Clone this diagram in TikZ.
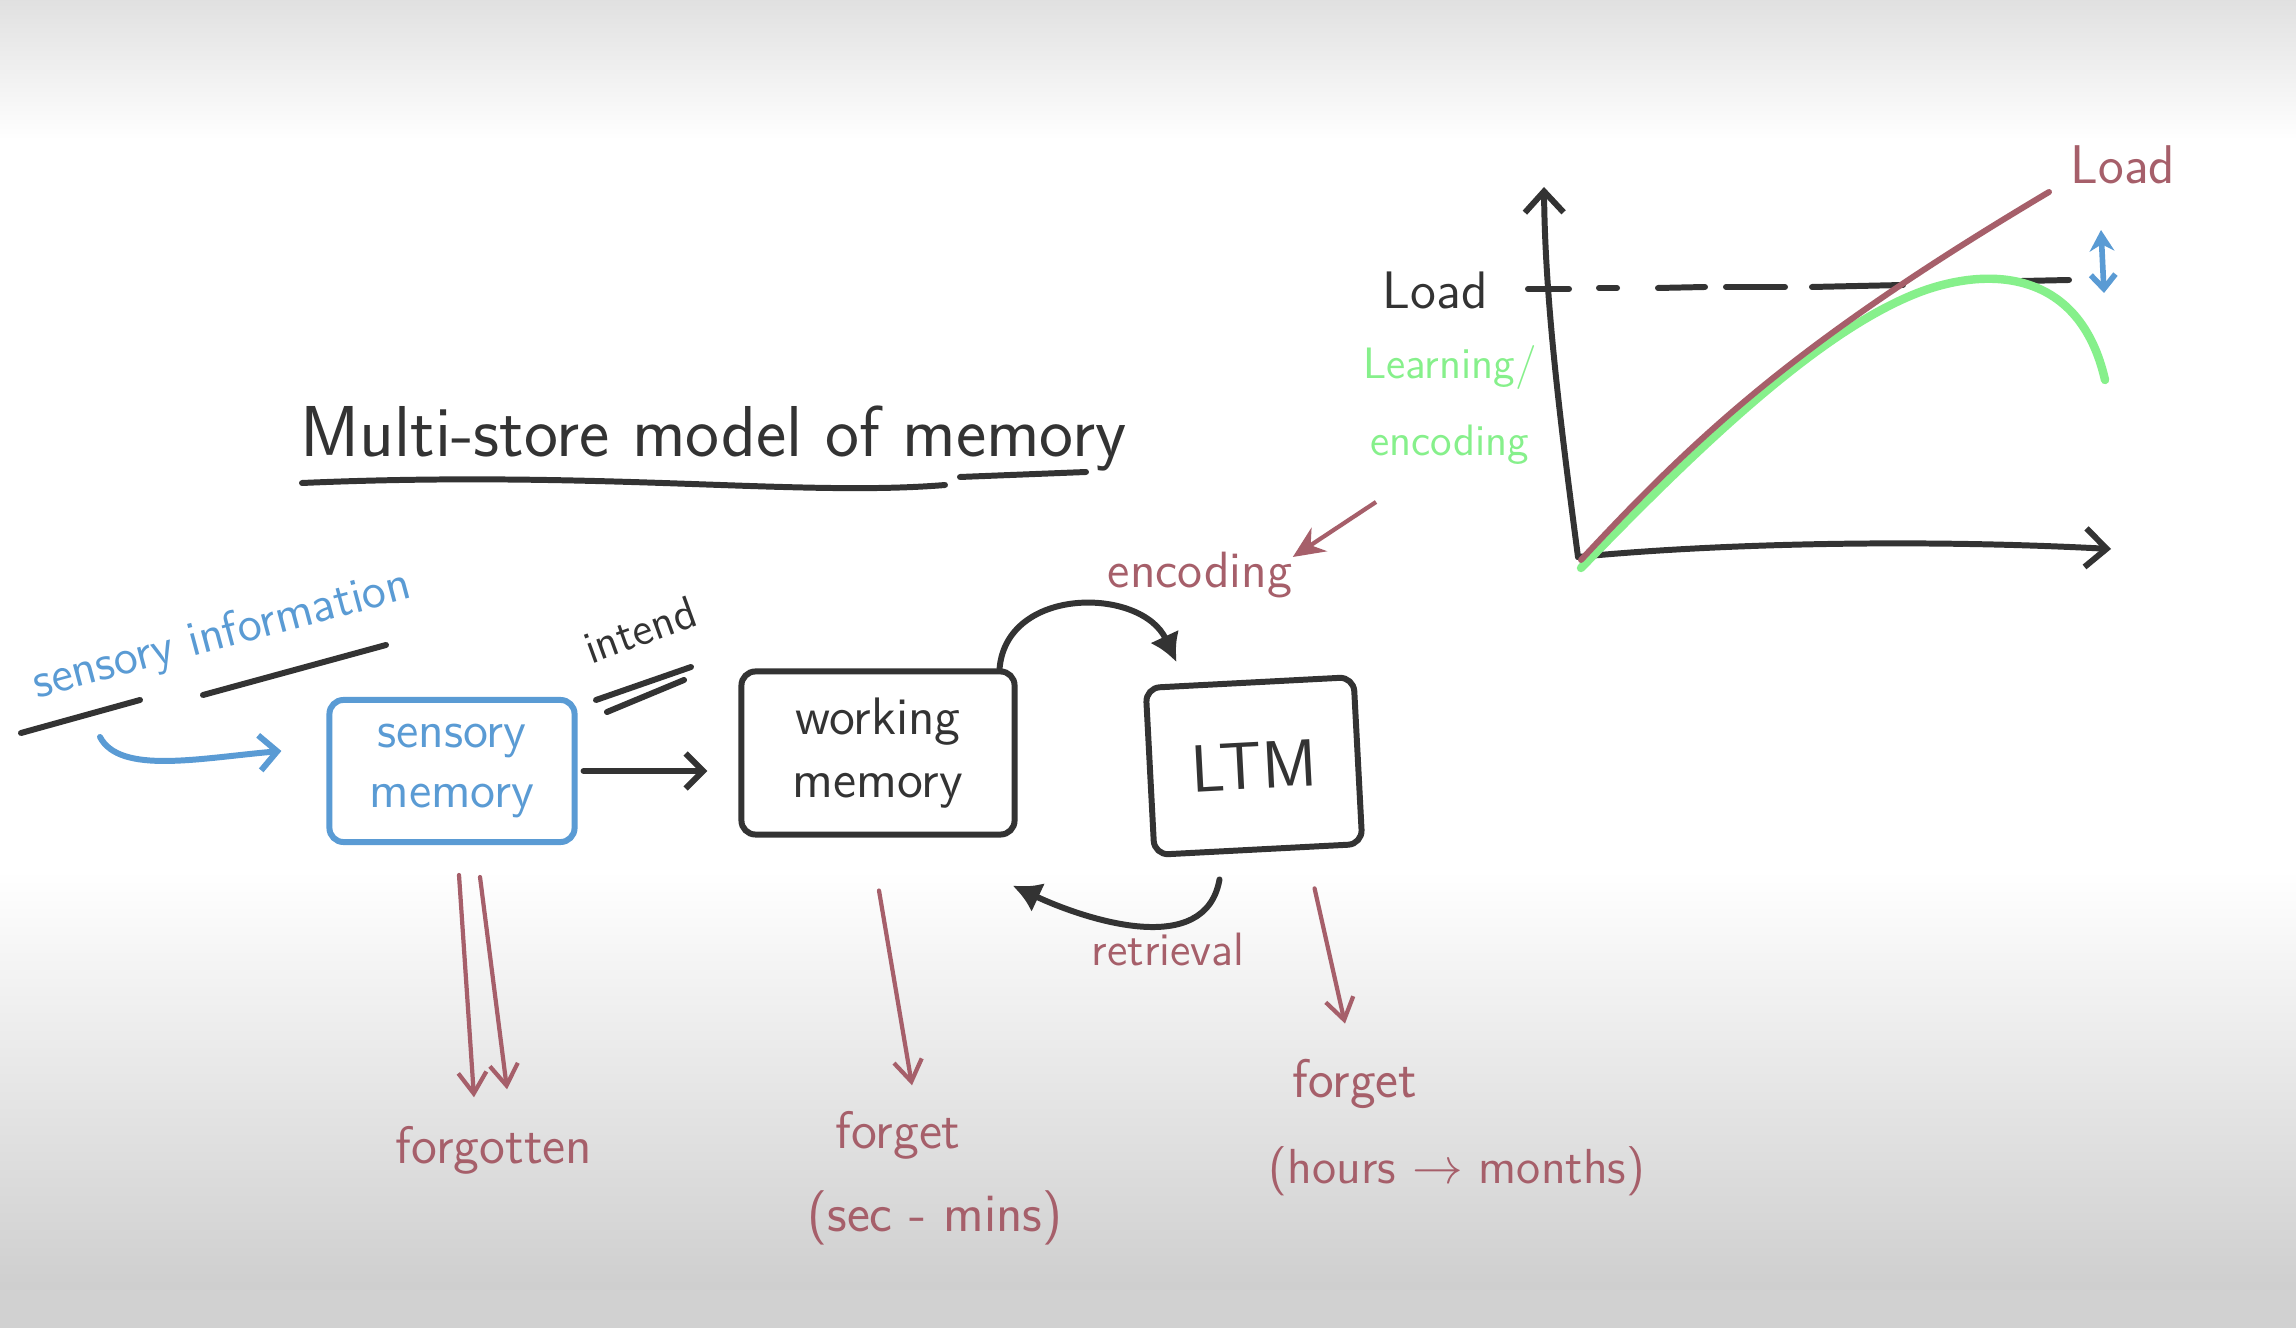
\documentclass[tikz,border=0pt]{standalone}
\usepackage{tikz}
\usetikzlibrary{arrows.meta, positioning}
\definecolor{clrInk}{HTML}{333333}
\definecolor{clrBlue}{HTML}{5A9BD4}
\definecolor{clrRed}{HTML}{A65F6A}
\definecolor{clrGreen}{HTML}{86F08B}
\tikzset{
  store/.style = {rectangle, rounded corners=4pt, draw=clrInk, line width=1.7pt,
                  align=center, inner sep=0pt, text=clrInk},
  hand/.style  = {inner sep=0pt, text=clrInk},
  ink/.style   = {line width=1.7pt, color=clrInk, line cap=round},
  arrow/.style = {-{Straight Barb[length=5pt, width=10pt]}, ink},
  carrow/.style = {-{Latex[length=8pt, width=9pt]}, ink},
  rarrow/.style = {-{Straight Barb[length=6pt, width=8pt]}, line width=1.2pt,
                   color=clrRed, line cap=round},
  label/.style = {inner sep=0pt, text=clrRed},
}
\newcommand{\hfont}[1]{\sffamily\fontsize{#1}{#1}\selectfont}

\begin{document}
\begin{tikzpicture}[x=0.01cm, y=0.01cm,
  axis/.style = {-{Straight Barb[length=6pt, width=11pt]}, ink},
  loadline/.style = {line width=1.7pt, color=clrRed, line cap=round},
  learnline/.style = {line width=2.4pt, color=clrGreen, line cap=round},
]
  % page and shading
  \useasboundingbox (0,0) rectangle (2296,-1328);
  \fill[white] (0,0) rectangle (2296,-1328);
  \shade[top color=gray!24, bottom color=white] (0,0) rectangle (2296,-140);
  \shade[top color=white, bottom color=gray!38] (0,-870) rectangle (2296,-1290);
  \fill[gray!36] (0,-1290) rectangle (2296,-1328);

  % Title
  \node[hand, anchor=base west, font=\hfont{20.5}] (title) at (300,-457) {Multi-store model of memory};
  \draw[ink] (302,-483) .. controls (600,-470) and (800,-497) .. (945,-485);
  \draw[ink] (960,-477) -- (1086,-472);

  % Stores
  \node[store, draw=clrBlue, text=clrBlue, minimum width=2.45cm, minimum height=1.42cm,
        font=\sffamily\fontsize{14.5}{17}\selectfont] (sensory) at (452,-771) {sensory\\memory};
  \node[store, minimum width=2.73cm, minimum height=1.63cm,
        font=\sffamily\fontsize{15}{18}\selectfont] (working) at (878,-753) {working\\memory};
  \node[store, minimum width=2.08cm, minimum height=1.67cm, rotate=3,
        font=\hfont{19}] (ltm) at (1254,-766) {LTM};

  % Input side
  \node[hand, text=clrBlue, rotate=15, font=\hfont{14}] (sinfo) at (222,-636) {sensory information};
  \draw[ink] (21,-733) -- (140,-700);
  \draw[ink] (203,-695) -- (386,-645);
  \node[hand, rotate=20, font=\hfont{13}] (intend) at (640,-630) {intend};
  \draw[ink] (596,-700) -- (691,-667);
  \draw[ink] (607,-712) -- (684,-680);

  % Red labels
  \node[label, font=\hfont{14.5}] (encoding)  at (1200,-575)  {encoding};
  \node[label, font=\hfont{13.3}] (retrieval) at (1168,-950)  {retrieval};
  \node[label, font=\hfont{15}]   (forgotten) at (494,-1150)  {forgotten};
  \node[label, font=\hfont{15}]   (forgetWM)  at (898,-1135)  {forget};
  \node[label, font=\hfont{15.5}] (secmins)   at (935,-1218)  {(sec - mins)};
  \node[label, font=\hfont{15.5}] (forgetLTM) at (1355,-1084) {forget};
  \node[label, font=\hfont{14}]   (hoursmonths) at (1457,-1171) {(hours $\rightarrow$ months)};

  % Flow between stores
  \coordinate (sinfoTail) at (100,-737);
  \draw[arrow, color=clrBlue] (sinfoTail) .. controls (120,-775) and (200,-758) .. ([xshift=-0.45cm, yshift=0.2cm]sensory.west);
  \draw[arrow, shorten <=0.06cm, shorten >=0.31cm] (sensory.east) -- (sensory.east -| working.west);
  \draw[carrow] ([xshift=-0.18cm]working.north east) to[out=85, in=115, looseness=1.2] ([xshift=0.34cm, yshift=0.23cm]ltm.north west);
  \draw[carrow] ([xshift=-0.39cm, yshift=-0.27cm]ltm.south) to[out=-100, in=-25] ([xshift=-0.05cm, yshift=-0.48cm]working.south east);

  % Forgetting
  \draw[rarrow] ([xshift=0.07cm, yshift=-0.30cm]sensory.south) -- ([xshift=-0.20cm, yshift=0.28cm]forgotten.north);
  \draw[rarrow] ([xshift=0.28cm, yshift=-0.32cm]sensory.south) -- ([xshift=0.13cm, yshift=0.36cm]forgotten.north);
  \draw[rarrow] ([xshift=0.01cm, yshift=-0.53cm]working.south) -- ([xshift=0.14cm, yshift=0.25cm]forgetWM.north);
  \draw[rarrow] ([xshift=0.56cm, yshift=-0.36cm]ltm.south) -- ([xshift=-0.10cm, yshift=0.35cm]forgetLTM.north);

  % Load graph
  \coordinate (O)    at (1578,-557);
  \coordinate (yTop) at (1544,-187);
  \coordinate (xEnd) at (2111,-549);
  \draw[axis] (O) .. controls (1560,-420) and (1545,-300) .. (yTop);
  \draw[axis] (O) .. controls (1700,-545) and (1900,-538) .. (xEnd);
  \draw[ink] (1528,-289) -- (1569,-289)
             (1599,-288) -- (1617,-288)
             (1658,-288) -- (1705,-287)
             (1726,-287) -- (1785,-287)
             (1812,-287) -- (1903,-285)
             (2022,-281) -- (2069,-280);
  \node[hand, font=\hfont{15}] (loadY) at (1435,-290) {Load};
  \node[hand, text=clrGreen, align=center, font=\sffamily\fontsize{12.5}{22}\selectfont] (learn) at (1450,-405) {Learning/\\encoding};
  \draw[learnline] (1581,-568) .. controls (1700,-445) and (1820,-330) .. (1920,-292)
                   .. controls (1990,-266) and (2080,-270) .. (2105,-380);
  \draw[loadline] (1581,-560) .. controls (1700,-432) and (1800,-340) .. (2049,-192);
  \node[hand, text=clrRed, font=\hfont{15.5}] (loadR) at (2123,-165) {Load};
  \coordinate (gapTop) at (2101,-230);
  \coordinate (gapBot) at (2104,-293);
  \draw[{Stealth[length=6pt, width=7pt]}-{Straight Barb[length=4pt, width=7pt]}, line width=1.6pt, color=clrBlue] (gapTop) -- (gapBot);
  \coordinate (encTail) at (1376,-502);
  \draw[-{Stealth[length=9pt, width=8pt]}, line width=1.2pt, color=clrRed] (encTail) -- ([yshift=0.18cm]encoding.east);

\end{tikzpicture}
\end{document}
